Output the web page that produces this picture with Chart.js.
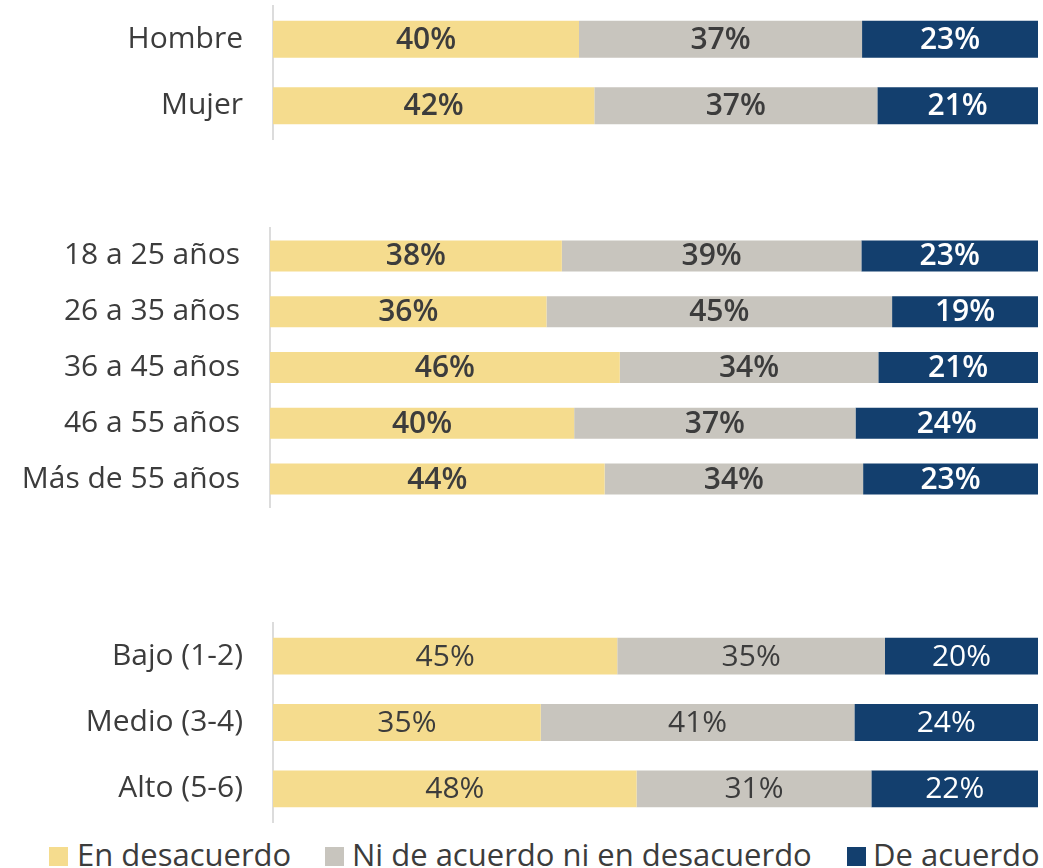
<!DOCTYPE html>
<html lang="es">
<head>
<meta charset="utf-8">
<script src="https://cdn.jsdelivr.net/npm/chart.js@4/dist/chart.umd.min.js"></script>
<style>
  html, body { margin: 0; padding: 0; background: #fff; }
  body { width: 1043px; height: 868px; position: relative; overflow: hidden; font-family: "Open Sans", sans-serif; }
  .box { position: absolute; left: 0; width: 1043px; }
  .legend { position: absolute; left: 0; top: 836px; width: 1043px; height: 40px; }
  .legend span { position: absolute; top: 0; font-size: 31px; color: #3c3c3c; line-height: 36px; white-space: nowrap; }
  .legend i { position: absolute; top: 11px; width: 19px; height: 19px; }
</style>
</head>
<body>
<div class="box" style="top:0;height:145px"><canvas id="genero"></canvas></div>
<div class="box" style="top:222px;height:291px"><canvas id="edad"></canvas></div>
<div class="box" style="top:617px;height:211px"><canvas id="nse"></canvas></div>
<div class="legend" id="legend"></div>

<script>
const seriesNames = ['En desacuerdo', 'Ni de acuerdo ni en desacuerdo', 'De acuerdo'];
const seriesColors = ['#f5dc8e', '#c8c5be', '#133f6e'];
const labelColors = ['#3c3c3c', '#3c3c3c', '#ffffff'];

const genderLabels = ['Hombre', 'Mujer'];
const genderDisagree = [40, 42];
const genderNeutral = [37, 37];
const genderAgree = [23, 21];

const ageLabels = ['18 a 25 años', '26 a 35 años', '36 a 45 años', '46 a 55 años', 'Más de 55 años'];
const ageDisagree = [38, 36, 46, 40, 44];
const ageNeutral = [39, 45, 34, 37, 34];
const ageAgree = [23, 19, 21, 24, 23];

const sesLabels = ['Bajo (1-2)', 'Medio (3-4)', 'Alto (5-6)'];
const sesDisagree = [45, 35, 48];
const sesNeutral = [35, 41, 31];
const sesAgree = [20, 24, 22];

// draws the percent text in the middle of each segment
const segmentLabels = {
  id: 'segmentLabels',
  afterDatasetsDraw(chart, args, opts) {
    const ctx = chart.ctx;
    ctx.save();
    ctx.font = (opts.weight || 'bold') + ' 30px "Open Sans", sans-serif';
    ctx.textAlign = 'center';
    ctx.textBaseline = 'middle';
    chart.data.datasets.forEach((ds, di) => {
      chart.getDatasetMeta(di).data.forEach((bar, i) => {
        const p = bar.getProps(['x', 'y', 'base'], true);
        ctx.fillStyle = labelColors[di];
        ctx.fillText(ds.raw[i] + '%', (p.x + p.base) / 2, p.y + 1);
      });
    });
    ctx.restore();
  }
};

function makeChart(id, labels, series, weight, leftEdge) {
  const totals = labels.map((_, i) => series.reduce((s, arr) => s + arr[i], 0));
  return new Chart(document.getElementById(id), {
    type: 'bar',
    data: {
      labels: labels,
      datasets: series.map((arr, k) => ({
        label: seriesNames[k],
        data: arr.map((v, i) => v / totals[i] * 100),
        raw: arr,
        backgroundColor: seriesColors[k],
        borderWidth: 0,
        categoryPercentage: 1,
        barPercentage: 0.556,
      })),
    },
    options: {
      indexAxis: 'y',
      responsive: true,
      maintainAspectRatio: false,
      animation: false,
      layout: { padding: { top: 6, bottom: 6, right: 5, left: 0 } },
      scales: {
        x: { stacked: true, min: 0, max: 100, display: false },
        y: {
          stacked: true,
          grid: { display: false, drawTicks: false },
          border: { display: true, color: '#dcdcdc', width: 2 },
          ticks: { color: '#3c3c3c', padding: 30, font: { family: '"Open Sans", sans-serif', size: 30 } },
          afterFit(scale) {
            scale.width = leftEdge;
            scale.paddingTop = 0;
            scale.paddingBottom = 0;
          },
        },
      },
      plugins: {
        legend: { display: false },
        tooltip: { enabled: false },
        segmentLabels: { weight: weight },
      },
    },
    plugins: [segmentLabels],
  });
}

makeChart('genero', genderLabels, [genderDisagree, genderNeutral, genderAgree], '600', 273);
makeChart('edad', ageLabels, [ageDisagree, ageNeutral, ageAgree], '600', 270);
makeChart('nse', sesLabels, [sesDisagree, sesNeutral, sesAgree], 'normal', 273);

const legendPos = [[49, 77], [325, 352], [847, 873]];
const legend = document.getElementById('legend');
seriesNames.forEach((name, k) => {
  const sq = document.createElement('i');
  sq.style.left = legendPos[k][0] + 'px';
  sq.style.background = seriesColors[k];
  legend.appendChild(sq);
  const t = document.createElement('span');
  t.style.left = legendPos[k][1] + 'px';
  t.textContent = name;
  legend.appendChild(t);
});
</script>
</body>
</html>
